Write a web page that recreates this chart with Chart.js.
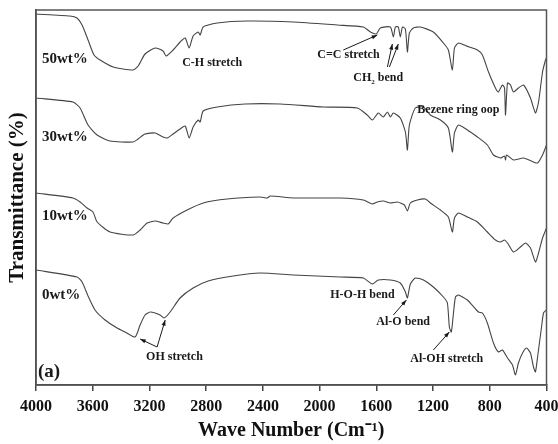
<!DOCTYPE html>
<html>
<head>
<meta charset="utf-8">
<script src="https://cdn.jsdelivr.net/npm/chart.js@4"></script>
<style>
  body { margin: 0; background: #fff; }
  #wrap { width: 558px; height: 444px; position: relative; }
</style>
</head>
<body>
<div id="wrap"><canvas id="ftirChart"></canvas></div>
<script>
// wave numbers (cm-1) and transmittance (arb. units, stacked) per sample
var wave50 = [4000, 3760, 3711, 3675, 3633, 3591, 3548, 3456, 3315, 3280, 3231, 3160, 3104, 3082, 3033, 2984, 2948, 2920, 2892, 2856, 2842, 2821, 2722, 2511, 2186, 1875, 1692, 1642, 1600, 1572, 1501, 1480, 1466, 1445, 1431, 1416, 1395, 1381, 1367, 1339, 1289, 1198, 1127, 1092, 1064, 1049, 1021, 965, 887, 852, 809, 760, 739, 711, 696, 689, 675, 654, 633, 598, 562, 513, 478, 456, 428, 407, 400];
var trans50 = [371, 369, 367, 360, 345, 330, 325, 318, 315, 319, 331, 337, 334, 329, 335, 343, 347, 337, 349, 353, 350, 358, 362, 364, 363, 360, 358, 353, 351, 357, 358, 348, 358, 358, 348, 358, 356, 333, 352, 357, 358, 353, 342, 335, 315, 337, 342, 339, 335, 330, 313, 297, 293, 300, 297, 270, 302, 300, 293, 297, 300, 287, 272, 283, 313, 325, 327];

var wave30 = [4000, 3739, 3689, 3633, 3569, 3478, 3315, 3280, 3231, 3160, 3104, 3075, 3033, 2984, 2948, 2920, 2892, 2856, 2842, 2821, 2722, 2525, 2278, 1974, 1734, 1664, 1628, 1586, 1551, 1522, 1501, 1480, 1431, 1395, 1381, 1367, 1325, 1268, 1219, 1148, 1092, 1064, 1049, 1021, 958, 887, 817, 774, 725, 696, 689, 682, 633, 562, 492, 463, 428, 400];
var trans30 = [287, 283, 277, 260, 250, 244, 243, 246, 251, 252, 248, 247, 251, 256, 259, 247, 258, 265, 263, 274, 278, 281, 281, 278, 277, 270, 265, 272, 268, 273, 268, 272, 267, 253, 235, 260, 277, 278, 270, 265, 257, 233, 252, 260, 255, 248, 240, 230, 227, 229, 225, 230, 225, 227, 223, 222, 230, 240];

var wave10 = [4000, 3739, 3689, 3640, 3598, 3569, 3478, 3315, 3266, 3216, 3160, 3104, 3068, 3033, 2934, 2821, 2652, 2419, 2369, 2348, 2186, 1854, 1692, 1628, 1593, 1551, 1501, 1452, 1402, 1381, 1360, 1311, 1254, 1219, 1148, 1092, 1064, 1049, 1021, 958, 887, 817, 760, 725, 696, 675, 633, 584, 548, 513, 478, 456, 428, 400];
var trans10 = [192, 187, 183, 177, 173, 163, 153, 150, 155, 162, 164, 162, 161, 167, 175, 182, 186, 188, 187, 189, 187, 187, 185, 181, 183, 184, 182, 183, 180, 174, 182, 185, 186, 182, 175, 168, 153, 167, 172, 168, 163, 153, 145, 143, 145, 142, 133, 138, 142, 137, 123, 132, 147, 157];

var wave0 = [4000, 3711, 3675, 3633, 3584, 3513, 3428, 3372, 3301, 3266, 3231, 3195, 3160, 3125, 3096, 3054, 2984, 2892, 2786, 2609, 2419, 2186, 1854, 1692, 1628, 1586, 1501, 1431, 1395, 1381, 1360, 1325, 1268, 1198, 1127, 1099, 1085, 1071, 1056, 1042, 1021, 958, 880, 852, 817, 774, 739, 711, 675, 640, 619, 598, 569, 541, 513, 492, 478, 463, 435, 421, 400];
var trans0 = [115, 108, 103, 89, 75, 65, 57, 53, 48, 60, 70, 73, 72, 70, 67, 73, 87, 97, 104, 109, 112, 110, 108, 107, 101, 105, 105, 102, 93, 87, 101, 107, 105, 98, 88, 82, 58, 53, 72, 88, 90, 85, 73, 72, 62, 42, 33, 35, 27, 20, 10, 22, 32, 37, 32, 18, 13, 28, 58, 72, 75];

var xTicks = [4000, 3600, 3200, 2800, 2400, 2000, 1600, 1200, 800, 400];

var serif = "'Liberation Serif', 'Times New Roman', serif";
var lineColor = '#444';

function toPoints(xs, ys) {
    return xs.map(function (x, i) { return { x: x, y: ys[i] }; });
}

function series(label, xs, ys) {
    return {
        label: label,
        data: toPoints(xs, ys),
        borderColor: lineColor,
        borderWidth: 1.1,
        pointRadius: 0,
        tension: 0.2,
        fill: false
    };
}

// labels and arrows, placed in data units (wave number, transmittance)
var notes = [
    { text: '50wt%', x: 3958, y: 326, size: 15 },
    { text: '30wt%', x: 3958, y: 248, size: 15 },
    { text: '10wt%', x: 3958, y: 169, size: 15 },
    { text: '0wt%', x: 3958, y: 90, size: 15 },
    { text: '(a)', x: 3986, y: 13, size: 19 },
    { text: 'C-H stretch', x: 2969, y: 322, size: 12 },
    { text: 'C=C stretch', x: 2016, y: 330, size: 12 },
    { text: 'CH', sub: '2', rest: ' bend', x: 1762, y: 307, size: 12 },
    { text: 'Bezene ring oop', x: 1311, y: 275, size: 12 },
    { text: 'H-O-H bend', x: 1925, y: 90, size: 12 },
    { text: 'Al-O bend', x: 1600, y: 63, size: 12 },
    { text: 'Al-OH stretch', x: 1360, y: 26, size: 12 },
    { text: 'OH stretch', x: 3224, y: 28, size: 12 }
];

var arrows = [
    [1833, 335, 1593, 350],
    [1522, 318, 1487, 341],
    [1508, 318, 1445, 341],
    [1480, 70, 1388, 85],
    [1198, 35, 1085, 53],
    [3146, 38, 3266, 46],
    [3146, 38, 3089, 65]
];

var notesPlugin = {
    id: 'notes',
    afterDatasetsDraw: function (chart) {
        var ctx = chart.ctx;
        var xs = chart.scales.x, ys = chart.scales.y;
        var area = chart.chartArea;
        ctx.save();
        // frame on top and right
        ctx.strokeStyle = '#555';
        ctx.lineWidth = 1.5;
        ctx.strokeRect(area.left, area.top, area.right - area.left, area.bottom - area.top);

        ctx.fillStyle = '#1a1a1a';
        ctx.textBaseline = 'middle';
        ctx.textAlign = 'left';
        notes.forEach(function (n) {
            var px = xs.getPixelForValue(n.x);
            var py = ys.getPixelForValue(n.y);
            ctx.font = 'bold ' + n.size + 'px ' + serif;
            ctx.fillText(n.text, px, py);
            if (n.sub) {
                var w = ctx.measureText(n.text).width;
                ctx.font = 'bold ' + Math.round(n.size * 0.6) + 'px ' + serif;
                ctx.fillText(n.sub, px + w, py + 4);
                var ws = ctx.measureText(n.sub).width;
                ctx.font = 'bold ' + n.size + 'px ' + serif;
                ctx.fillText(n.rest, px + w + ws, py);
            }
        });

        ctx.strokeStyle = '#1a1a1a';
        ctx.lineWidth = 1;
        arrows.forEach(function (a) {
            var x1 = xs.getPixelForValue(a[0]), y1 = ys.getPixelForValue(a[1]);
            var x2 = xs.getPixelForValue(a[2]), y2 = ys.getPixelForValue(a[3]);
            var ang = Math.atan2(y2 - y1, x2 - x1);
            ctx.beginPath();
            ctx.moveTo(x1, y1);
            ctx.lineTo(x2, y2);
            ctx.stroke();
            ctx.beginPath();
            ctx.moveTo(x2, y2);
            ctx.lineTo(x2 - 6 * Math.cos(ang - 0.35), y2 - 6 * Math.sin(ang - 0.35));
            ctx.lineTo(x2 - 6 * Math.cos(ang + 0.35), y2 - 6 * Math.sin(ang + 0.35));
            ctx.closePath();
            ctx.fill();
        });
        ctx.restore();
    }
};

new Chart("ftirChart", {
    type: "line",
    data: {
        datasets: [
            series('50wt%', wave50, trans50),
            series('30wt%', wave30, trans30),
            series('10wt%', wave10, trans10),
            series('0wt%', wave0, trans0)
        ]
    },
    options: {
        responsive: true,
        maintainAspectRatio: false,
        animation: false,
        layout: { padding: { top: 10, right: 11.5, left: 0, bottom: 0 } },
        plugins: {
            legend: { display: false },
            tooltip: { enabled: false }
        },
        scales: {
            x: {
                type: 'linear',
                reverse: true,
                min: 400,
                max: 4000,
                afterBuildTicks: function (axis) {
                    axis.ticks = xTicks.map(function (v) { return { value: v }; });
                },
                afterFit: function (axis) {
                    axis.height = 59;
                    axis.paddingLeft = 0;
                    axis.paddingRight = 0;
                },
                ticks: {
                    autoSkip: false,
                    maxRotation: 0,
                    padding: 6,
                    color: '#111',
                    font: { family: serif, size: 16, weight: 'bold' },
                    callback: function (value) { return String(value); }
                },
                grid: {
                    drawOnChartArea: false,
                    drawTicks: true,
                    tickLength: 6,
                    color: '#444',
                    lineWidth: 1.5
                },
                border: { display: true, color: '#444', width: 1.5 },
                title: {
                    display: true,
                    text: 'Wave Number (Cm\u207B\u00B9)',
                    color: '#111',
                    padding: { top: 0, bottom: 1 },
                    font: { family: serif, size: 20, weight: 'bold' }
                }
            },
            y: {
                min: 0,
                max: 375,
                afterFit: function (axis) { axis.width = 36; },
                ticks: { display: false },
                grid: { display: false },
                border: { display: true, color: '#444', width: 1.5 },
                title: {
                    display: true,
                    text: 'Transmittance (%)',
                    color: '#111',
                    padding: { top: 5, bottom: 0 },
                    font: { family: serif, size: 21, weight: 'bold' }
                }
            }
        }
    },
    plugins: [notesPlugin]
});
</script>
</body>
</html>
